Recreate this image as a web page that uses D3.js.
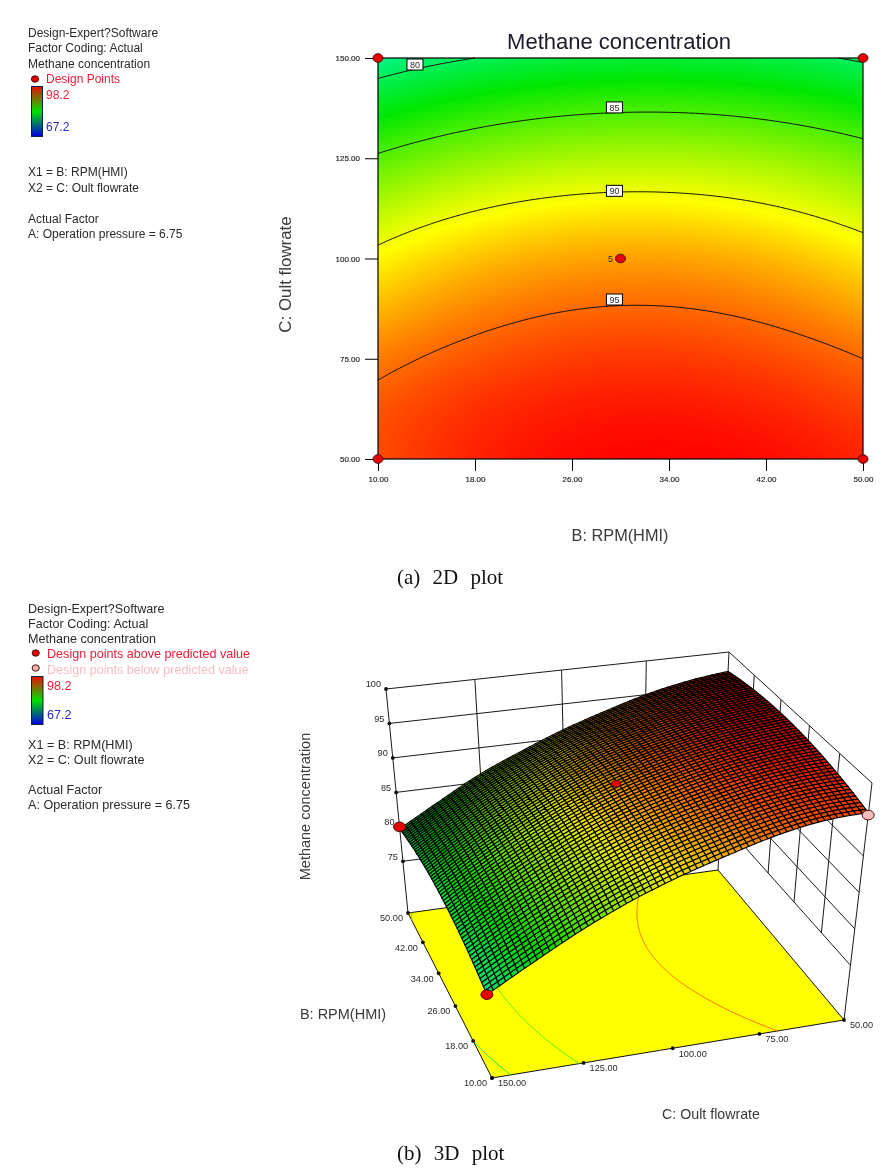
<!DOCTYPE html>
<html><head><meta charset="utf-8">
<script src="https://cdn.jsdelivr.net/npm/d3@7"></script>
<style>
html,body{margin:0;padding:0;background:#fff}
#wrap{position:relative;width:889px;height:1168px;overflow:hidden}
canvas,svg{position:absolute;left:0;top:0}
text{font-family:"Liberation Sans",Arial,sans-serif;fill:#2a2a2a}
</style></head><body>
<div id="wrap"><canvas id="heat" width="889" height="1168"></canvas><svg id="svg" width="889" height="1168"></svg></div>
<script>
// ---- data ----
const bTicks=[10,18,26,34,42,50];
const cTicks=[50,75,100,125,150];
const zTicks=[75,80,85,90,95,100];
const cGrid=[50,62.5,75,87.5,100,112.5,125,137.5,150];
const resp_b10=[95.9,95.6,94.4,92.6,90.6,88.2,85.3,82.0,78.6];
const resp_b18=[97.16,96.73,95.67,94.13,92.26,89.86,86.92,83.61,80.0];
const resp_b26=[97.92,97.37,96.37,94.95,93.14,90.74,87.82,84.51,80.82];
const resp_b34=[98.16,97.51,96.49,95.07,93.26,90.86,88.0,84.71,81.04];
const resp_b42=[97.88,97.15,96.03,94.49,92.62,90.22,87.46,84.21,80.66];
const resp_b50=[97.1,96.3,95.0,93.2,91.2,88.8,86.2,83.0,79.7];
const contourLevels=[80,85,90,95];
const contourLabelB=[13.05,29.5,29.5,29.5];
const contourLabelC=[148.5,137.8,117,89.9];
const points2dB=[10,50,10,50,30];
const points2dC=[150,150,50,50,100];
const points3dB=[50,30,10,10];
const points3dC=[150,100,150,50];
const points3dZ=[80,92.9,78.6,95.6];
const points3dFill=["#e80000","#e80000","#e80000","#f6bcbc"];
const rampDomain=[67.2,74.95,82.7,90.45,98.2];
const rampColors=["#0000ff","#00ffff","#00e800","#ffff00","#ff0000"];
const legendLines2d=["Design-Expert?Software","Factor Coding: Actual","Methane concentration"];
const legendLines3d=legendLines2d;
const factorLines=["X1 = B: RPM(HMI)","X2 = C: Oult flowrate"];
const actualLines=["Actual Factor","A: Operation pressure = 6.75"];
// ---- helpers ----
const respColumns=[resp_b10,resp_b18,resp_b26,resp_b34,resp_b42,resp_b50];
const ramp=d3.scaleLinear().domain(rampDomain).range(rampColors).clamp(true);
function cr(p,t){ // Catmull-Rom through read values
  const n=p.length,x=Math.max(0,Math.min(n-1.000001,t)),i=Math.floor(x),f=x-i;
  const p1=p[i],p2=p[i+1];
  const p0=i>0?p[i-1]:3*p1-3*p2+p[i+2],p3=i+2<n?p[i+2]:3*p2-3*p1+p[i-1];
  return .5*((2*p1)+(-p0+p2)*f+(2*p0-5*p1+4*p2-p3)*f*f+(-p0+3*p1-3*p2+p3)*f*f*f);
}
const bIdx=d3.scaleLinear().domain([10,50]).range([0,bTicks.length-1]);
const cIdx=d3.scaleLinear().domain([50,150]).range([0,cGrid.length-1]);
function resp(b,c){const t=cIdx(c);return cr(respColumns.map(col=>cr(col,t)),bIdx(b));}
const svg=d3.select("#svg");
function tx(x,y,s,o={}){
  const t=svg.append("text").attr("x",x).attr("y",y).text(s)
   .style("font-size",(o.size||12)+"px").style("fill",o.fill||"#2a2a2a");
  if(o.anchor)t.attr("text-anchor",o.anchor);
  if(o.family)t.style("font-family",o.family);
  if(o.ls)t.style("letter-spacing",o.ls+"px");
  if(o.ws)t.style("word-spacing",o.ws+"px");
  if(o.rot!=null)t.attr("transform",`rotate(${o.rot} ${x} ${y})`);
  if(o.dy)t.attr("dy",o.dy);
  return t;
}
function legend(lines,size,ys){
  lines.forEach((l,i)=>tx(28,ys[i],l,{size,dy:"0.36em"}));
}
const defs=svg.append("defs");
const lg=defs.append("linearGradient").attr("id","bar").attr("x1",0).attr("x2",0).attr("y1",0).attr("y2",1);
[["0%","#e81000"],["50%","#00e000"],["100%","#0000e0"]].forEach(d=>lg.append("stop").attr("offset",d[0]).attr("stop-color",d[1]));
function dot(x,y,rx,ry,fill){svg.append("ellipse").attr("cx",x).attr("cy",y).attr("rx",rx).attr("ry",ry).attr("fill",fill).attr("stroke","#4a1010").attr("stroke-width",1);}
// contour segments, without the parts that run along the frame
const NX=201,NY=201;
const gridVals=new Array(NX*NY);
const gxB=d3.scaleLinear().domain([0.5,NX-0.5]).range([10,50]);
const gyC=d3.scaleLinear().domain([0.5,NY-0.5]).range([50,150]);
for(let j=0;j<NY;j++)for(let i=0;i<NX;i++)gridVals[j*NX+i]=resp(gxB(i+.5),gyC(j+.5));
const contourGen=d3.contours().size([NX,NY]).thresholds(contourLevels);
const contourSets=contourGen(gridVals);
function contourSegments(set){
  const out=[];
  const edge=p=>p[0]<=0.6||p[0]>=NX-0.6||p[1]<=0.6||p[1]>=NY-0.6;
  set.coordinates.forEach(poly=>poly.forEach(ring=>{
    let cur=[];
    for(let k=0;k<ring.length;k++){
      const p=ring[k];
      if(edge(p)){
        if(cur.length){cur.push(p);out.push(cur);cur=[];}
        const nx=ring[k+1];
        if(nx&&!edge(nx))cur=[p];
      } else cur.push(p);
    }
    if(cur.length>1)out.push(cur);
  }));
  return out.map(seg=>seg.map(p=>[Math.min(50,Math.max(10,gxB(p[0]))),Math.min(150,Math.max(50,gyC(p[1])))]));
}
// ---- 2D panel ----
legend(legendLines2d,12,[33,48,64]);
dot(35,79,3.6,3.2,"#e00000");
tx(46,79,"Design Points",{size:12,fill:"#e8203a",dy:"0.36em"});
svg.append("rect").attr("x",31.5).attr("y",86.5).attr("width",11).attr("height",50).attr("fill","url(#bar)").attr("stroke","#102040");
tx(46,95,"98.2",{size:12,fill:"#e8203a",dy:"0.36em"});
tx(46,127,"67.2",{size:12,fill:"#2a2ac0",dy:"0.36em"});
factorLines.forEach((l,i)=>tx(28,[172,188][i],l,{size:12,dy:"0.36em"}));
actualLines.forEach((l,i)=>tx(28,[219,234][i],l,{size:12,dy:"0.36em"}));
const x2=d3.scaleLinear().domain([10,50]).range([378,863]);
const y2=d3.scaleLinear().domain([50,150]).range([459,58]);
const ctx=document.getElementById("heat").getContext("2d");
for(let px=378;px<863;px++)for(let py=58;py<459;py++){
  ctx.fillStyle=ramp(resp(x2.invert(px+.5),y2.invert(py+.5)));
  ctx.fillRect(px,py,1,1);
}
const line2=d3.line().x(d=>x2(d[0])).y(d=>y2(d[1]));
const plot2=svg.append("g");
contourSets.forEach(set=>{
  plot2.selectAll(null).data(contourSegments(set)).join("path").attr("d",line2)
   .attr("fill","none").attr("stroke","#101010").attr("stroke-width",1);
});
plot2.append("rect").attr("x",378).attr("y",58).attr("width",485).attr("height",401).attr("fill","none").attr("stroke","#000").attr("stroke-width",1.2);
const fmt=d3.format(".2f");
const axB=svg.append("g").attr("transform","translate(0,459)").call(d3.axisBottom(x2).tickValues(bTicks).tickFormat(fmt).tickSize(12).tickSizeOuter(0).tickPadding(5));
const axC=svg.append("g").attr("transform","translate(378,0)").call(d3.axisLeft(y2).tickValues(cTicks).tickFormat(fmt).tickSize(13).tickSizeOuter(0).tickPadding(5));
[axB,axC].forEach(a=>{a.select(".domain").remove();a.selectAll("line").attr("stroke","#000");
  a.selectAll("text").style("font-size","8px").style("fill","#222").style("font-family",'"Liberation Sans",Arial,sans-serif').style("stroke","#222").style("stroke-width",.15);});
contourLevels.forEach((lv,i)=>{
  const x=x2(contourLabelB[i]),y=y2(contourLabelC[i]);
  svg.append("rect").attr("x",x-8).attr("y",y-5).attr("width",16).attr("height",11).attr("fill","#fff").attr("stroke","#000").attr("stroke-width",1);
  tx(x,y+.5,String(lv),{size:9,anchor:"middle",dy:"0.36em"});
});
points2dB.forEach((b,i)=>dot(x2(b),y2(points2dC[i]),5,4.3,"#e80000"));
tx(x2(30)-10,y2(100),"5",{size:9,anchor:"middle",dy:"0.36em"});
tx(619,41,"Methane concentration",{size:22,anchor:"middle",dy:"0.36em",fill:"#1a1a2a"});
tx(620,535,"B: RPM(HMI)",{size:16.3,anchor:"middle",dy:"0.36em",fill:"#3a3a3a"});
tx(285,274.5,"C: Oult flowrate",{size:16.9,anchor:"middle",dy:"0.36em",rot:-90,fill:"#3a3a3a"});
tx(397,576,"(a) 2D plot",{size:21,family:'"Liberation Serif",serif',dy:"0.36em",ws:7,fill:"#111"});
// ---- 3D panel ----
legend(legendLines3d,12.6,[608,623,638]);
dot(35.7,653,3.6,3.2,"#e00000");
dot(35.7,668,3.6,3.2,"#f0b0b0");
tx(47,653,"Design points above predicted value",{size:12.6,fill:"#e8203a",dy:"0.36em"});
tx(47,669,"Design points below predicted value",{size:12.6,fill:"#f6bcc4",dy:"0.36em"});
svg.append("rect").attr("x",31.5).attr("y",676.5).attr("width",11.5).attr("height",48).attr("fill","url(#bar)").attr("stroke","#102040");
tx(47,685,"98.2",{size:12.6,fill:"#e8203a",dy:"0.36em"});
tx(47,714,"67.2",{size:12.6,fill:"#2a2ac0",dy:"0.36em"});
factorLines.forEach((l,i)=>tx(28,[744,759][i],l,{size:12.6,dy:"0.36em"}));
actualLines.forEach((l,i)=>tx(28,[789,804][i],l,{size:12.6,dy:"0.36em"}));
// projection: unit square corners to picture corners (front, left, back, right)
const floorFrame=[[492,1078],[408,913],[718,870],[844,1020]];
const topFrame=[[477,834],[386,689],[729,652],[872,783]];
function homog(q){
  const [[x0,y0],[x1,y1],[x2_,y2_],[x3,y3]]=q;
  const dx1=x1-x2_,dx2=x3-x2_,sx=x0-x1+x2_-x3,dy1=y1-y2_,dy2=y3-y2_,sy=y0-y1+y2_-y3;
  const den=dx1*dy2-dx2*dy1,g=(sx*dy2-dx2*sy)/den,h=(dx1*sy-sx*dy1)/den;
  const a=x1-x0+g*x1,b=x3-x0+h*x3,c=x0,d=y1-y0+g*y1,e=y3-y0+h*y3,f=y0;
  return (u,v)=>{const w=g*u+h*v+1;return [(a*u+b*v+c)/w,(d*u+e*v+f)/w];};
}
const fH=homog(floorFrame),tH=homog(topFrame);
const uS=d3.scaleLinear().domain([10,50]).range([0,1]);
const vS=d3.scaleLinear().domain([150,50]).range([0,1]);
const tS=d3.scaleLinear().domain([67.5,100]).range([0,1]);
function proj(b,c,z){
  const u=uS(b),v=vS(c),t=tS(z),f=fH(u,v),k=tH(u,v);
  return [f[0]+t*(k[0]-f[0]),f[1]+t*(k[1]-f[1])];
}
const floorPath=d3.line()([proj(10,150,67.5),proj(50,150,67.5),proj(50,50,67.5),proj(10,50,67.5)])+"Z";
svg.append("path").attr("d",floorPath).attr("fill","#ffff00").attr("stroke","#111").attr("stroke-width",1);
const lineFloor=d3.line().x(d=>proj(d[0],d[1],67.5)[0]).y(d=>proj(d[0],d[1],67.5)[1]);
contourSets.forEach((set,i)=>{
  svg.append("g").selectAll("path").data(contourSegments(set)).join("path").attr("d",lineFloor)
    .attr("fill","none").attr("stroke",ramp(contourLevels[i])).attr("stroke-width",1);
});
const wall=svg.append("g").attr("stroke","#1a1a1a").attr("stroke-width",1).attr("fill","none");
function seg3(a,b){wall.append("path").attr("d",d3.line()([proj(...a),proj(...b)]));}
zTicks.forEach(z=>{seg3([50,150,z],[50,50,z]);seg3([50,50,z],[10,50,z]);});
cTicks.slice(1,-1).forEach(c=>seg3([50,c,75],[50,c,100]));
bTicks.slice(1,-1).forEach(b=>seg3([b,50,75],[b,50,100]));
seg3([50,150,67.5],[50,150,100]);
seg3([50,50,67.5],[50,50,100]);
seg3([10,50,67.5],[10,50,100]);
// axis dots and labels
bTicks.forEach(b=>{const p=proj(b,150,67.5);svg.append("circle").attr("cx",p[0]).attr("cy",p[1]).attr("r",1.9).attr("fill","#111");
  tx(p[0]-5,p[1]+5,fmt(b),{size:9.2,anchor:"end",dy:"0.36em"});});
cTicks.forEach(c=>{const p=proj(10,c,67.5);svg.append("circle").attr("cx",p[0]).attr("cy",p[1]).attr("r",1.9).attr("fill","#111");
  tx(p[0]+6,p[1]+5,fmt(c),{size:9.2,dy:"0.36em"});});
zTicks.forEach(z=>{const p=proj(50,150,z);svg.append("circle").attr("cx",p[0]).attr("cy",p[1]).attr("r",1.9).attr("fill","#111");
  tx(p[0]-5,p[1]-5,String(z),{size:9.2,anchor:"end",dy:"0.36em"});});
// response surface mesh, far cells first; fill dims where the cell is seen at a grazing angle
const MESH=60;
const mB=d3.scaleLinear().domain([0,MESH]).range([10,50]);
const mC=d3.scaleLinear().domain([0,MESH]).range([150,50]);
const cells=[];
for(let i=0;i<MESH;i++)for(let j=0;j<MESH;j++)cells.push([i,j]);
cells.sort((a,b)=>(b[0]+b[1])-(a[0]+a[1]));
const meshPoint=(i,j)=>{const b=mB(i),c=mC(j);return proj(b,c,resp(b,c));};
const cellQuad=d=>[meshPoint(d[0],d[1]),meshPoint(d[0]+1,d[1]),meshPoint(d[0]+1,d[1]+1),meshPoint(d[0],d[1]+1)];
svg.append("g").selectAll("path").data(cells).join("path")
 .attr("d",d=>d3.line()(cellQuad(d))+"Z")
 .attr("fill",d=>{
   const area=Math.abs(d3.polygonArea(cellQuad(d)));
   return d3.color(ramp(resp(mB(d[0]+.5),mC(d[1]+.5)))).darker(0.25+2.2*Math.max(0,1-area/22));
 })
 .attr("stroke","#000").attr("stroke-width",1.1);
points3dB.forEach((b,i)=>{const p=proj(b,points3dC[i],points3dZ[i]);
  const small=i===1;dot(p[0],p[1],small?4.6:6,small?3.2:4.8,points3dFill[i]);});
tx(305,806.5,"Methane concentration",{size:14.5,anchor:"middle",dy:"0.36em",rot:-90,fill:"#3a3a3a"});
tx(343,1014,"B: RPM(HMI)",{size:14.5,anchor:"middle",dy:"0.36em",fill:"#3a3a3a"});
tx(711,1114,"C: Oult flowrate",{size:14.2,anchor:"middle",dy:"0.36em",fill:"#3a3a3a"});
tx(397,1152,"(b) 3D plot",{size:21,family:'"Liberation Serif",serif',dy:"0.36em",ws:7,fill:"#111"});
</script></body></html>
